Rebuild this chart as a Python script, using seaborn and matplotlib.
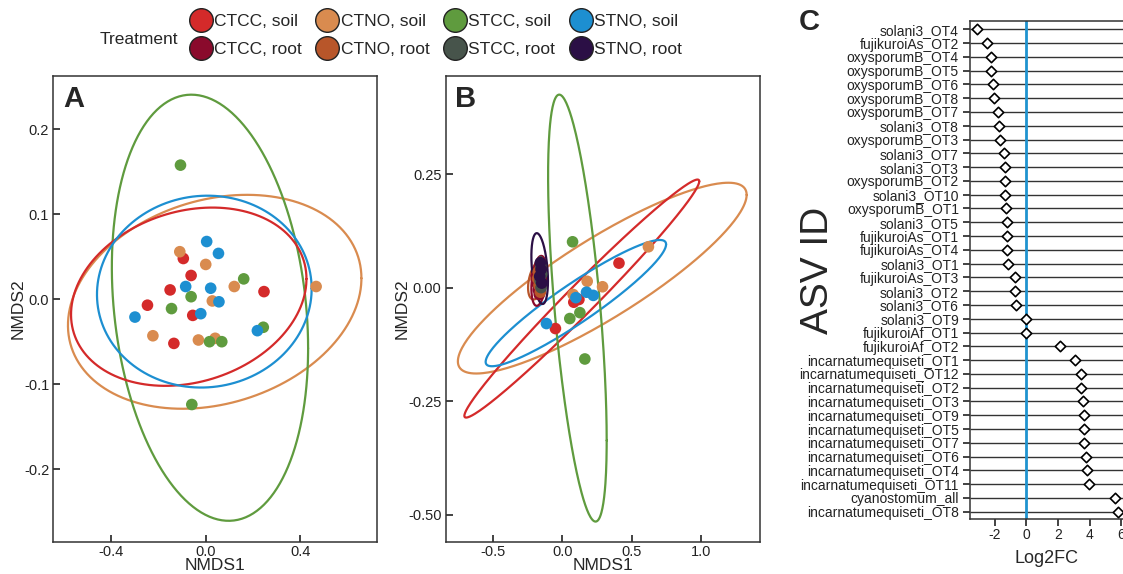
import numpy as np
import pandas as pd
import matplotlib
matplotlib.use("Agg")
import matplotlib.pyplot as plt
from matplotlib.lines import Line2D
import seaborn as sns

sns.set_style("ticks")
plt.rcParams['font.family'] = ['Liberation Sans', 'DejaVu Sans']

# Treatment groups and colours
groups = ["CTCC, soil", "CTCC, root", "CTNO, soil", "CTNO, root",
          "STCC, soil", "STCC, root", "STNO, soil", "STNO, root"]
colors = ["#d42a2a", "#8a0a2c", "#d98b4f", "#b8562a",
          "#5f9b3e", "#47544b", "#1d8fd1", "#2b0f45"]
palette = dict(zip(groups, colors))

# Panel A - NMDS of soil samples
a_group = (["CTCC, soil"] * 7 + ["CTNO, soil"] * 8 +
           ["STCC, soil"] * 8 + ["STNO, soil"] * 8)
a_x = [-0.095, -0.062, -0.151, 0.247, -0.247, -0.055, -0.135,
       -0.110, 0.000, 0.121, 0.468, 0.028, -0.224, -0.031, 0.040,
       -0.107, 0.161, -0.062, -0.145, 0.016, 0.068, 0.244, -0.059,
       0.004, 0.054, -0.085, 0.021, 0.056, -0.021, -0.300, 0.219]
a_y = [0.048, 0.028, 0.011, 0.009, -0.007, -0.019, -0.052,
       0.056, 0.041, 0.015, 0.015, -0.002, -0.043, -0.048, -0.046,
       0.158, 0.024, 0.003, -0.011, -0.050, -0.050, -0.033, -0.124,
       0.068, 0.054, 0.015, 0.013, -0.003, -0.017, -0.021, -0.037]

# Panel A ellipses: centre, half x-extent, half y-extent, correlation
a_ell_group = ["CTNO, soil", "STCC, soil", "CTCC, soil", "STNO, soil"]
a_ell_cx = [0.038, 0.018, -0.072, -0.006]
a_ell_cy = [-0.003, -0.010, 0.003, 0.009]
a_ell_rx = [0.622, 0.416, 0.499, 0.455]
a_ell_ry = [0.126, 0.251, 0.105, 0.113]
a_ell_rho = [0.22, -0.19, 0.20, 0.03]

# Panel B - NMDS of soil and root samples
b_group = (["CTCC, soil"] * 4 + ["CTNO, soil"] * 4 +
           ["STCC, soil"] * 4 + ["STNO, soil"] * 4 +
           ["CTCC, root"] * 4 + ["CTNO, root"] * 4 +
           ["STCC, root"] * 4 + ["STNO, root"] * 4)
b_x = [0.409, 0.119, 0.082, -0.051,
       0.622, 0.179, 0.290, 0.077,
       0.073, 0.126, 0.053, 0.162,
       0.174, 0.223, 0.097, -0.116,
       -0.185, -0.175, -0.190, -0.168,
       -0.180, -0.170, -0.160, -0.175,
       -0.158, -0.150, -0.162, -0.155,
       -0.160, -0.155, -0.165, -0.150]
b_y = [0.054, -0.026, -0.032, -0.090,
       0.090, 0.014, 0.002, -0.015,
       0.101, -0.055, -0.068, -0.157,
       -0.010, -0.017, -0.022, -0.079,
       0.010, -0.005, 0.025, -0.015,
       0.020, 0.005, -0.010, 0.035,
       0.048, 0.030, 0.015, 0.000,
       0.055, 0.040, 0.025, 0.010]

b_ell_group = ["CTNO, soil", "CTCC, soil", "STNO, soil", "STCC, soil",
               "CTNO, root", "CTCC, root", "STCC, root", "STNO, root"]
b_ell_cx = [0.288, 0.140, 0.097, 0.108, -0.183, -0.170, -0.158, -0.165]
b_ell_cy = [0.021, -0.024, -0.034, -0.045, 0.017, 0.015, 0.028, 0.042]
b_ell_rx = [1.045, 0.850, 0.653, 0.212, 0.066, 0.055, 0.025, 0.060]
b_ell_ry = [0.210, 0.262, 0.139, 0.470, 0.043, 0.055, 0.040, 0.078]
b_ell_rho = [0.873, 0.985, 0.93, -0.62, 0.40, 0.30, 0.0, -0.35]

# Panel C - Log2 fold change per ASV
asv_ids = ["solani3_OT4", "fujikuroiAs_OT2", "oxysporumB_OT4", "oxysporumB_OT5",
           "oxysporumB_OT6", "oxysporumB_OT8", "oxysporumB_OT7", "solani3_OT8",
           "oxysporumB_OT3", "solani3_OT7", "solani3_OT3", "oxysporumB_OT2",
           "solani3_OT10", "oxysporumB_OT1", "solani3_OT5", "fujikuroiAs_OT1",
           "fujikuroiAs_OT4", "solani3_OT1", "fujikuroiAs_OT3", "solani3_OT2",
           "solani3_OT6", "solani3_OT9", "fujikuroiAf_OT1", "fujikuroiAf_OT2",
           "incarnatumequiseti_OT1", "incarnatumequiseti_OT12",
           "incarnatumequiseti_OT2", "incarnatumequiseti_OT3",
           "incarnatumequiseti_OT9", "incarnatumequiseti_OT5",
           "incarnatumequiseti_OT7", "incarnatumequiseti_OT6",
           "incarnatumequiseti_OT4", "incarnatumequiseti_OT11",
           "cyanostomum_all", "incarnatumequiseti_OT8"]
log2fc = [-3.08, -2.49, -2.24, -2.20, -2.08, -2.07, -1.78, -1.74,
          -1.66, -1.40, -1.36, -1.34, -1.32, -1.30, -1.24, -1.22,
          -1.19, -1.15, -0.72, -0.70, -0.63, 0.0, 0.0, 2.14,
          3.10, 3.42, 3.48, 3.58, 3.63, 3.65, 3.67, 3.79,
          3.82, 3.94, 5.60, 5.79]


def draw_ellipses(ax, grp, cx, cy, rx, ry, rho):
    t = np.linspace(0, 2 * np.pi, 300)
    for g, x0, y0, a, b, r in zip(grp, cx, cy, rx, ry, rho):
        d = np.arccos(r)
        ax.plot(x0 + a * np.cos(t), y0 + b * np.cos(t - d),
                color=palette[g], lw=1.6, zorder=3)


def style_nmds(ax):
    for s in ax.spines.values():
        s.set_color("#333333")
        s.set_linewidth(1.1)
    ax.tick_params(direction="in", length=5, width=1.2, color="#222222",
                   labelsize=10.5, pad=3, labelcolor="#222222")
    ax.tick_params(axis="x", pad=2)
    ax.set_xlabel("NMDS1", fontsize=12.5, labelpad=-0.5)
    ax.set_ylabel("NMDS2", fontsize=12.5, labelpad=-1)


fig = plt.figure(figsize=(11.23, 5.74), dpi=100)
axA = fig.add_axes([0.0475, 0.0557, 0.2882, 0.8119])
axB = fig.add_axes([0.3969, 0.0557, 0.2799, 0.8119])
axC = fig.add_axes([0.8638, 0.0953, 0.1362, 0.8681])

# Panel A
dfA = pd.DataFrame({"NMDS1": a_x, "NMDS2": a_y, "Treatment": a_group})
sns.scatterplot(data=dfA, x="NMDS1", y="NMDS2", hue="Treatment",
                palette=palette, s=70, linewidth=0, ax=axA, legend=False, zorder=4)
draw_ellipses(axA, a_ell_group, a_ell_cx, a_ell_cy, a_ell_rx, a_ell_ry, a_ell_rho)
axA.set_xlim(-0.646, 0.726)
axA.set_ylim(-0.286, 0.263)
axA.set_xticks([-0.4, 0.0, 0.4])
axA.set_xticklabels(["-0.4", "0.0", "0.4"])
axA.set_yticks([-0.2, -0.1, 0.0, 0.1, 0.2])
axA.set_yticklabels(["-0.2", "-0.1", "0.0", "0.1", "0.2"])
style_nmds(axA)
axA.text(0.03, 0.98, "A", transform=axA.transAxes, fontsize=21,
         fontweight="bold", ha="left", va="top")

# Panel B
dfB = pd.DataFrame({"NMDS1": b_x, "NMDS2": b_y, "Treatment": b_group})
sns.scatterplot(data=dfB, x="NMDS1", y="NMDS2", hue="Treatment",
                palette=palette, s=70, linewidth=0, ax=axB, legend=False, zorder=4)
draw_ellipses(axB, b_ell_group, b_ell_cx, b_ell_cy, b_ell_rx, b_ell_ry, b_ell_rho)
axB.set_xlim(-0.845, 1.43)
axB.set_ylim(-0.56, 0.466)
axB.set_xticks([-0.5, 0.0, 0.5, 1.0])
axB.set_xticklabels(["-0.5", "0.0", "0.5", "1.0"])
axB.set_yticks([-0.5, -0.25, 0.0, 0.25])
axB.set_yticklabels(["-0.50", "-0.25", "0.00", "0.25"])
style_nmds(axB)
axB.text(0.03, 0.98, "B", transform=axB.transAxes, fontsize=21,
         fontweight="bold", ha="left", va="top")

# Panel C
dfC = pd.DataFrame({"ASV": asv_ids, "Log2FC": log2fc})
ypos = np.arange(len(asv_ids))
xmin, xmax = -3.55, 6.1
axC.hlines(ypos, xmin, xmax, color="#333333", lw=1.0, zorder=1)
axC.axvline(0, color="#1f93cf", lw=2, zorder=2)
sns.scatterplot(x=dfC["Log2FC"], y=ypos, marker="D", s=28, facecolor="white",
                edgecolor="black", linewidth=1.2, ax=axC, zorder=3)
axC.set_xlim(xmin, xmax)
axC.set_ylim(len(asv_ids) - 1 + 0.55, -0.6)
axC.set_yticks(ypos)
axC.set_yticklabels(asv_ids)
axC.set_xticks([-2, 0, 2, 4, 6])
axC.set_xticklabels(["-2", "0", "2", "4", "6"])
axC.spines["right"].set_visible(False)
for s in ["left", "top", "bottom"]:
    axC.spines[s].set_color("#333333")
    axC.spines[s].set_linewidth(1.1)
axC.tick_params(direction="out", length=5, width=1.2, color="#222222",
                labelsize=10, pad=3, labelcolor="#222222")
axC.tick_params(axis="x", pad=1)
axC.set_xlabel("Log2FC", fontsize=13, labelpad=6)
axC.set_ylabel("")
fig.text(818 / 1123, 1 - 270 / 574, "ASV ID", rotation=90, fontsize=28,
         ha="center", va="center")
fig.text(809 / 1123, 1 - 22 / 574, "C", fontsize=21, fontweight="bold",
         ha="center", va="center")

# Legend
handles = [Line2D([], [], marker="o", linestyle="", markerfacecolor=palette[g],
                  markeredgecolor="#222222", markeredgewidth=1.0, markersize=17)
           for g in groups]
fig.legend(handles, groups, ncol=4, loc="upper left",
           bbox_to_anchor=(189 / 1123, 1 - 14 / 574), frameon=False,
           fontsize=12.5, handlelength=1.36, handletextpad=0.08,
           columnspacing=0.8, labelspacing=0.75, borderpad=0,
           borderaxespad=0)
fig.text(100 / 1123, 1 - 40 / 574, "Treatment", fontsize=12.5,
         ha="left", va="center")

fig.savefig("out.png", dpi=100)
